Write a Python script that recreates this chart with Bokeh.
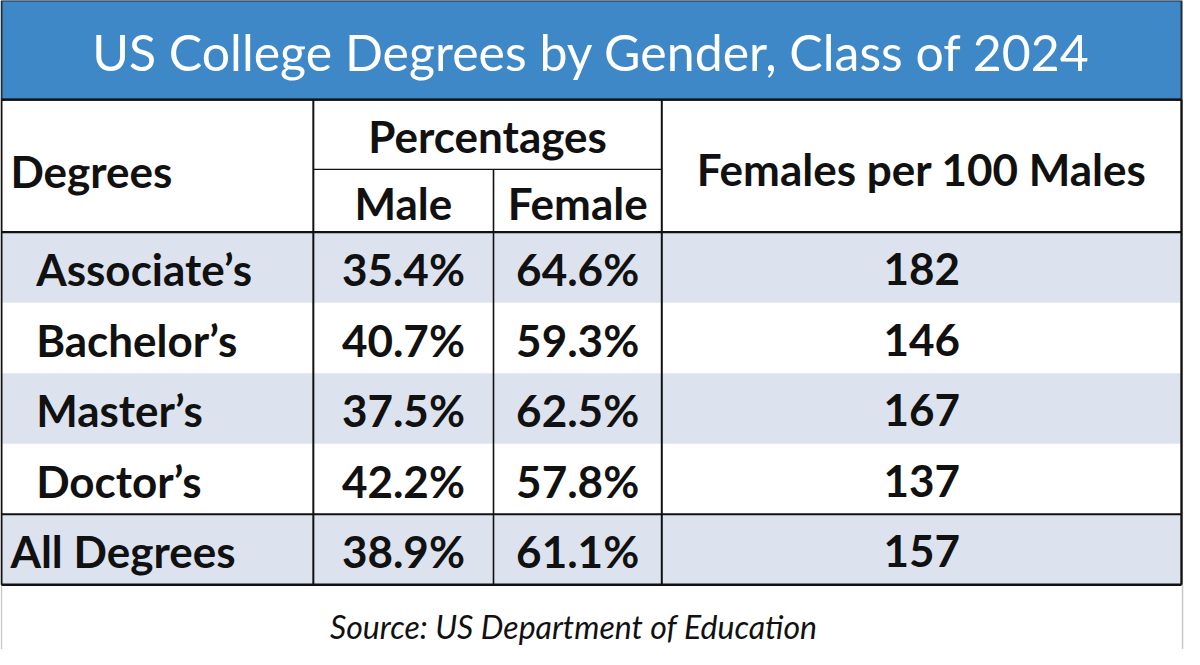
from bokeh.plotting import figure
from bokeh.models import Range1d, ColumnDataSource
from bokeh.core.properties import value
from bokeh.embed import file_html
from bokeh.resources import INLINE

# ---- data ----
title_text = "US College Degrees by Gender, Class of 2024"
degrees = ["Associate\u2019s", "Bachelor\u2019s", "Master\u2019s", "Doctor\u2019s", "All Degrees"]
male_pct = [35.4, 40.7, 37.5, 42.2, 38.9]
female_pct = [64.6, 59.3, 62.5, 57.8, 61.1]
females_per_100_males = [182, 146, 167, 137, 157]
col_headers = ["Degrees", "Percentages", "Male", "Female", "Females per 100 Males"]
source_text = "Source: US Department of Education"

FONT = value("Lato")
INK = "#111111"
BLUE = "#3e88c8"
SHADE = "#dce3ef"
WEIGHT = "bold"

# layout (reference pixel coordinates)
L, R = 3, 1195
T_TOP, T_BOT = 2, 103
H_BOT = 238
SUB_Y = 174
ROW_H = (597 - H_BOT) / len(degrees)
X1, X2, X3 = 318, 500, 670

p = figure(width=1184, height=649, output_backend="svg", toolbar_location=None,
           x_range=Range1d(2, 1198), y_range=Range1d(663, 2),
           min_border=0, outline_line_color=None, background_fill_color="white",
           border_fill_color="white")
p.axis.visible = False
p.grid.visible = False

# title band
p.quad(left=[L], right=[R], top=[T_TOP], bottom=[T_BOT], fill_color=BLUE,
       line_color="#1f2d3d", line_width=2)
p.text(x=[(L + R) / 2], y=[54], text=[title_text], text_font=FONT,
       text_font_size="50px", text_color="white", text_align="center",
       text_baseline="middle")

# row shading
n = len(degrees)
row_top = [H_BOT + i * ROW_H for i in range(n)]
row_bot = [H_BOT + (i + 1) * ROW_H for i in range(n)]
row_mid = [H_BOT + (i + 0.5) * ROW_H for i in range(n)]
shade_rows = [i for i in range(n) if i % 2 == 0]
p.quad(left=[L] * len(shade_rows), right=[R] * len(shade_rows),
       top=[row_top[i] for i in shade_rows], bottom=[row_bot[i] for i in shade_rows],
       fill_color=SHADE, line_color=None)

# frame continuing below table (light)
p.segment(x0=[L, R + 1], y0=[597, 597], x1=[L, R + 1], y1=[665, 665],
          line_color="#c8c8c8", line_width=1.5)

# grid lines
tb = 597
segs = [
    (L, T_BOT, R, T_BOT, 2.2),
    (L, H_BOT, R, H_BOT, 2.2),
    (X1, SUB_Y, X3, SUB_Y, 1.2),
    (L, row_top[n - 1], R, row_top[n - 1], 2.0),
    (L, tb, R, tb, 2.4),
    (L, T_BOT, L, tb, 2.0),
    (R, T_BOT, R, tb, 2.4),
    (X1, T_BOT, X1, tb, 2.0),
    (X3, T_BOT, X3, tb, 2.0),
    (X2, SUB_Y, X2, tb, 1.6),
]
p.segment(x0=[s[0] for s in segs], y0=[s[1] for s in segs],
          x1=[s[2] for s in segs], y1=[s[3] for s in segs],
          line_width=[s[4] for s in segs], line_color=INK)

FS = "44px"
# headers
p.text(x=[12], y=[176], text=[col_headers[0]], text_font=FONT, text_font_size=FS,
       text_font_style=WEIGHT, text_color=INK, text_align="left", text_baseline="middle")
p.text(x=[(X1 + X3) / 2], y=[140], text=[col_headers[1]], text_font=FONT,
       text_font_size=FS, text_font_style=WEIGHT, text_color=INK, text_align="center",
       text_baseline="middle")
p.text(x=[(X1 + X2) / 2, (X2 + X3) / 2], y=[208, 208], text=col_headers[2:4],
       text_font=FONT, text_font_size=FS, text_font_style=WEIGHT, text_color=INK,
       text_align="center", text_baseline="middle")
p.text(x=[(X3 + R) / 2], y=[174], text=[col_headers[4]], text_font=FONT,
       text_font_size=FS, text_font_style=WEIGHT, text_color=INK, text_align="center",
       text_baseline="middle")

# body
src = ColumnDataSource(dict(
    label=degrees,
    lx=[38] * (n - 1) + [12],
    y=[m + 2 for m in row_mid],
    male=[f"{v:.1f}%" for v in male_pct],
    female=[f"{v:.1f}%" for v in female_pct],
    ratio=[str(v) for v in females_per_100_males],
    mx=[(X1 + X2) / 2] * n,
    fx=[(X2 + X3) / 2] * n,
    rx=[(X3 + R) / 2] * n,
))
for col, xcol, align in [("label", "lx", "left"), ("male", "mx", "center"),
                         ("female", "fx", "center"), ("ratio", "rx", "center")]:
    p.text(x=xcol, y="y", text=col, source=src, text_font=FONT, text_font_size=FS,
           text_font_style=WEIGHT, text_color=INK, text_align=align,
           text_baseline="middle")

# source
p.text(x=[581], y=[640], text=[source_text], text_font=FONT, text_font_size="32px",
       text_font_style="italic", text_color=INK, text_align="center",
       text_baseline="middle")

open("out.html", "w").write(file_html(p, INLINE))
